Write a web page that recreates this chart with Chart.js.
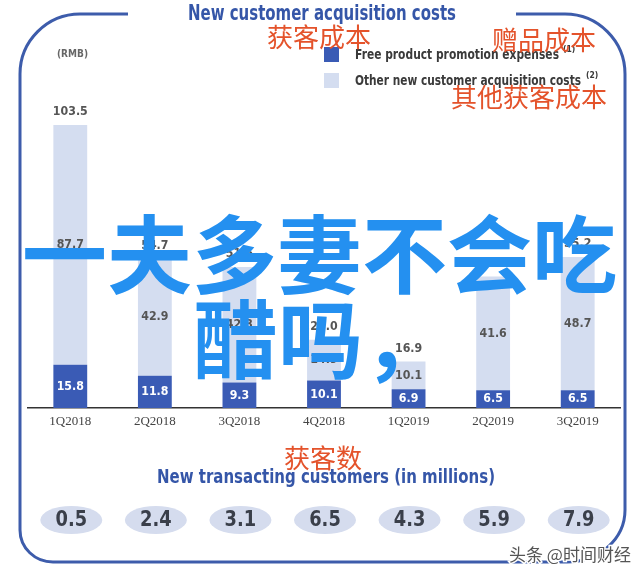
<!DOCTYPE html>
<html>
<head>
<meta charset="utf-8">
<script src="https://cdn.jsdelivr.net/npm/chart.js@4"></script>
<style>
  body { margin: 0; background: #fff; }
  #wrap { width: 640px; height: 577px; }
</style>
</head>
<body>
<div id="wrap"><canvas id="costChart" width="640" height="577"></canvas></div>
<script>
const quarters = ["1Q2018", "2Q2018", "3Q2018", "4Q2018", "1Q2019", "2Q2019", "3Q2019"];
const freeProduct = [15.8, 11.8, 9.3, 10.1, 6.9, 6.5, 6.5];
const otherCosts = [87.7, 42.9, 42.3, 14.9, 10.1, 41.6, 48.7];
const totalLabels = ["103.5", "54.7", "51.6", "25.0", "16.9", "48.1", "55.2"];
const newCustomers = ["0.5", "2.4", "3.1", "6.5", "4.3", "5.9", "7.9"];

const SANS = "'DejaVu Sans', sans-serif";
const CJK = "'Noto Sans CJK SC', sans-serif";
const darkBlue = "#3a5bb5";
const lightBlue = "#d4ddf0";
const frameBlue = "#3d5cab";
const red = "#e4532b";

// squeeze text horizontally so it looks condensed like the original
function squeezed(ctx, text, x, y, sx, align) {
  ctx.save();
  ctx.translate(x, y);
  ctx.scale(sx, 1);
  ctx.textAlign = align || "center";
  ctx.fillText(text, 0, 0);
  ctx.restore();
}

// fit text to a given width
function fitted(ctx, text, x, y, width, align) {
  const w = ctx.measureText(text).width;
  squeezed(ctx, text, x, y, width / w, align);
}

const decorations = {
  id: "decorations",
  afterDatasetsDraw(chart) {
    const ctx = chart.ctx;
    const blueMeta = chart.getDatasetMeta(0);
    const lightMeta = chart.getDatasetMeta(1);
    ctx.save();
    ctx.textBaseline = "middle";
    ctx.font = "bold 13px " + SANS;
    blueMeta.data.forEach((bar, i) => {
      ctx.fillStyle = "#ffffff";
      squeezed(ctx, freeProduct[i].toFixed(1), bar.x, (bar.y + bar.base) / 2, 0.85);
    });
    lightMeta.data.forEach((bar, i) => {
      ctx.fillStyle = "#555";
      squeezed(ctx, otherCosts[i].toFixed(1), bar.x, (bar.y + bar.base) / 2, 0.85);
      squeezed(ctx, totalLabels[i], bar.x, bar.y - 13, 0.85);
    });
    ctx.restore();
  },
  afterDraw(chart) {
    const ctx = chart.ctx;
    const x = chart.scales.x;
    ctx.save();

    // rounded frame
    ctx.strokeStyle = frameBlue;
    ctx.lineWidth = 3;
    ctx.beginPath();
    ctx.moveTo(128, 14);
    ctx.lineTo(80, 14);
    ctx.bezierCurveTo(47, 14, 20, 41, 20, 74);
    ctx.lineTo(20, 530);
    ctx.bezierCurveTo(20, 548, 35, 562, 53, 562);
    ctx.lineTo(567, 562);
    ctx.bezierCurveTo(599, 562, 625, 539, 625, 510);
    ctx.lineTo(625, 74);
    ctx.bezierCurveTo(625, 41, 598, 14, 565, 14);
    ctx.lineTo(516, 14);
    ctx.stroke();

    ctx.textBaseline = "middle";

    // title
    ctx.fillStyle = "#3556a8";
    ctx.font = "bold 21px " + SANS;
    fitted(ctx, "New customer acquisition costs", 322, 15, 268, "center");

    ctx.fillStyle = "#666";
    ctx.font = "bold 11px " + SANS;
    fitted(ctx, "(RMB)", 57, 54, 31, "left");

    // legend
    ctx.fillStyle = darkBlue;
    ctx.fillRect(324, 47, 15, 15);
    ctx.fillStyle = lightBlue;
    ctx.fillRect(324, 73, 15, 15);
    ctx.fillStyle = "#3a3a3a";
    ctx.font = "bold 14px " + SANS;
    fitted(ctx, "Free product promotion expenses", 355, 55, 204, "left");
    fitted(ctx, "Other new customer acquisition costs", 355, 81, 226, "left");
    ctx.font = "bold 9px " + SANS;
    squeezed(ctx, "(1)", 563, 50, 0.85, "left");
    squeezed(ctx, "(2)", 586, 76, 0.85, "left");

    // red annotations
    ctx.fillStyle = red;
    ctx.font = "26px " + CJK;
    ctx.textAlign = "left";
    ctx.fillText("获客成本", 267, 37);
    ctx.fillText("赠品成本", 492, 40);
    ctx.fillText("其他获客成本", 451, 97);
    ctx.textAlign = "center";
    ctx.fillText("获客数", 323, 458);

    // new customers row
    ctx.fillStyle = "#3556a8";
    ctx.font = "bold 20px " + SANS;
    fitted(ctx, "New transacting customers (in millions)", 326, 478, 338, "center");
    newCustomers.forEach((v, i) => {
      const cx = x.getPixelForValue(i) + 1;
      ctx.fillStyle = "#d5dcee";
      ctx.beginPath();
      ctx.ellipse(cx, 520, 31, 14, 0, 0, Math.PI * 2);
      ctx.fill();
      ctx.fillStyle = "#3a3f4a";
      ctx.font = "bold 21px " + SANS;
      squeezed(ctx, v, cx, 521, 0.85);
    });

    // watermark
    ctx.textAlign = "left";
    ctx.font = "17px " + CJK;
    ctx.lineWidth = 3;
    ctx.strokeStyle = "#ffffff";
    ctx.strokeText("头条 @时间财经", 509, 555);
    ctx.fillStyle = "#555";
    ctx.fillText("头条 @时间财经", 509, 555);

    // big overlay caption
    ctx.fillStyle = "#2490f0";
    ctx.font = "bold 85px " + CJK;
    ctx.fillText("一夫多妻不会吃", 22, 255);
    ctx.fillText("醋吗，", 193, 340);

    ctx.restore();
  }
};

new Chart(document.getElementById("costChart").getContext("2d"), {
  type: "bar",
  data: {
    labels: quarters,
    datasets: [
      {
        label: "Free product promotion expenses",
        data: freeProduct,
        backgroundColor: darkBlue,
        barPercentage: 0.4,
        categoryPercentage: 1
      },
      {
        label: "Other new customer acquisition costs",
        data: otherCosts,
        backgroundColor: lightBlue,
        barPercentage: 0.4,
        categoryPercentage: 1
      }
    ]
  },
  options: {
    responsive: false,
    animation: false,
    layout: { padding: { left: 28, right: 20, top: 80, bottom: 145 } },
    plugins: {
      legend: { display: false },
      tooltip: { enabled: false }
    },
    scales: {
      x: {
        stacked: true,
        grid: { display: false, drawTicks: false },
        border: { display: true, color: "#333", width: 1.5 },
        ticks: {
          color: "#444",
          padding: 6,
          font: { family: "'Liberation Serif', serif", size: 13 }
        },
        afterFit(scale) { scale.height = 24; }
      },
      y: {
        stacked: true,
        display: false,
        min: 0,
        max: 120
      }
    }
  },
  plugins: [decorations]
});
</script>
</body>
</html>
